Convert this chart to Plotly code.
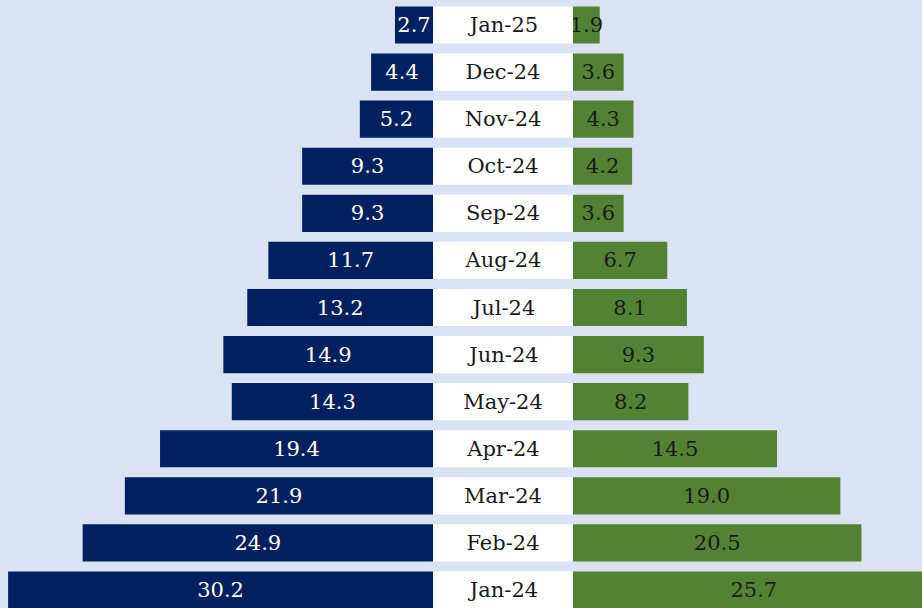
import plotly.graph_objects as go

# Monthly values, oldest at the bottom
months = ["Jan-24", "Feb-24", "Mar-24", "Apr-24", "May-24", "Jun-24", "Jul-24",
          "Aug-24", "Sep-24", "Oct-24", "Nov-24", "Dec-24", "Jan-25"]
left_vals = [30.2, 24.9, 21.9, 19.4, 14.3, 14.9, 13.2, 11.7, 9.3, 9.3, 5.2, 4.4, 2.7]
right_vals = [25.7, 20.5, 19.0, 14.5, 8.2, 9.3, 8.1, 6.7, 3.6, 4.2, 4.3, 3.6, 1.9]

NAVY = "#002060"
GREEN = "#548235"
BG = "#dae3f3"
FONT = "DejaVu Serif"

rows = list(range(len(months)))
W = 922
x_left_end = 433 / W
x_right_start = 573 / W
px_per_unit = 14.07

fig = go.Figure()

# left side (reversed axis)
fig.add_trace(go.Bar(
    x=left_vals, y=rows, orientation="h", width=0.79,
    marker=dict(color=NAVY, line=dict(width=0)),
    text=[f"{v:.1f}" for v in left_vals], textposition="inside", textangle=0,
    insidetextanchor="middle", constraintext="none",
    textfont=dict(family=FONT, size=21, color="white"),
    xaxis="x", yaxis="y", hoverinfo="skip",
))

# centre month labels
fig.add_trace(go.Bar(
    x=[1] * len(months), y=rows, orientation="h", width=0.79,
    marker=dict(color="white", line=dict(width=0)),
    text=months, textposition="inside", textangle=0, insidetextanchor="middle",
    constraintext="none",
    textfont=dict(family=FONT, size=21, color="#1a1a1a"),
    xaxis="x2", yaxis="y", hoverinfo="skip",
))

# right side
fig.add_trace(go.Bar(
    x=right_vals, y=rows, orientation="h", width=0.79,
    marker=dict(color=GREEN, line=dict(width=0)),
    text=[f"{v:.1f}" for v in right_vals], textposition="inside", textangle=0,
    insidetextanchor="middle", constraintext="none",
    textfont=dict(family=FONT, size=21, color="#1a1a1a"),
    xaxis="x3", yaxis="y", hoverinfo="skip",
))

hidden = dict(showgrid=False, zeroline=False, showticklabels=False, showline=False)

fig.update_layout(
    width=922, height=608,
    margin=dict(l=0, r=0, t=0, b=0),
    paper_bgcolor=BG, plot_bgcolor=BG,
    showlegend=False, barmode="overlay",
    xaxis=dict(domain=[0, x_left_end], range=[433 / px_per_unit, 0], **hidden),
    xaxis2=dict(domain=[x_left_end, x_right_start], range=[0, 1], anchor="y", **hidden),
    xaxis3=dict(domain=[x_right_start, 1], range=[0, (W - 573) / px_per_unit], anchor="y", **hidden),
    yaxis=dict(range=[-0.382, 12.531], **hidden),
)

# page body margin would otherwise shift the chart
fig.write_html("out.html", config={"displayModeBar": False},
               post_script="document.body.style.margin='0';")
